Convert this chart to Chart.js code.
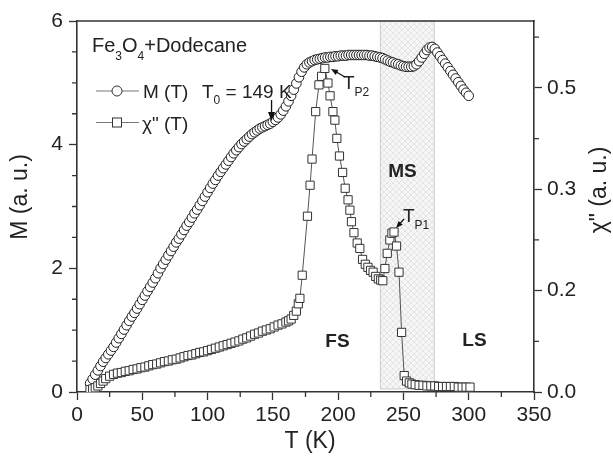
<!DOCTYPE html>
<html><head><meta charset="utf-8">
<script src="https://cdn.jsdelivr.net/npm/chart.js@4.4.0/dist/chart.umd.min.js"></script>
<style>html,body{margin:0;padding:0;background:#fff}canvas{display:block}</style>
</head><body>
<canvas id="c" width="613" height="456"></canvas>
<script>
// ---- data ----
const tempM = [10,12,14,16,18,20,22,24,26,28,30,32,34,36,38,40,42,44,46,48,50,52,54,56,58,60,62,64,66,68,70,72,74,76,78,80,82,84,86,88,90,92,94,96,98,100,102,104,106,108,110,112,114,116,118,120,122,124,126,128,130,132,134,136,138,140,142,144,146,148,150,152,154,156,158,160,162,164,166,168,170,172,174,176,178,180,182,184,186,188,190,192,194,196,198,200,202,204,206,208,210,212,214,216,218,220,222,224,226,228,230,232,234,236,238,240,242,244,246,248,250,252,254,256,258,260,262,264,266,268,270,272,274,276,278,280,282,284,286,288,290,292,294,296,298,300];
const magM = [0.14,0.21,0.28,0.35,0.42,0.49,0.55,0.61,0.67,0.73,0.80,0.87,0.94,1.01,1.08,1.15,1.22,1.28,1.35,1.42,1.49,1.56,1.63,1.70,1.77,1.84,1.92,2.00,2.07,2.14,2.21,2.28,2.35,2.42,2.48,2.55,2.62,2.69,2.75,2.82,2.89,2.95,3.02,3.09,3.16,3.23,3.30,3.37,3.43,3.50,3.56,3.62,3.68,3.74,3.80,3.86,3.91,3.96,4.01,4.05,4.09,4.13,4.17,4.20,4.23,4.26,4.28,4.30,4.32,4.34,4.37,4.40,4.44,4.49,4.55,4.62,4.70,4.79,4.89,4.99,5.09,5.18,5.25,5.30,5.33,5.35,5.37,5.38,5.39,5.40,5.41,5.41,5.42,5.42,5.43,5.43,5.44,5.44,5.44,5.45,5.45,5.45,5.45,5.45,5.45,5.45,5.45,5.44,5.44,5.43,5.42,5.41,5.40,5.38,5.36,5.34,5.33,5.31,5.30,5.28,5.27,5.26,5.26,5.26,5.27,5.30,5.35,5.41,5.47,5.53,5.57,5.58,5.55,5.49,5.43,5.37,5.31,5.25,5.19,5.13,5.07,5.01,4.95,4.89,4.84,4.79];
const tempChi = [10,12,14,16,18,20,22,25,28,31,34,37,40,43,46,49,52,55,58,61,64,67,70,73,76,79,82,85,88,91,94,97,100,103,106,109,112,115,118,121,124,127,130,133,136,139,142,145,148,151,154,157,160,162,164,166,168,169.5,170.7,172.5,176.5,178.5,180,182.8,185.3,187.3,189.8,192.2,193.8,196,197.5,199,201,203.4,205.4,207.6,209,210.2,212.1,214.6,216.6,218.7,220.8,222.8,224.8,226.8,228.8,230.8,232.6,234.2,235.8,237.6,239.6,241.2,242.8,244.7,246.6,248.6,250.6,252.4,254.5,256.5,259,262,265,268,271,274,277,280,283,286,289,292,295,298,301];
const chiVals = [0.004,0.005,0.007,0.010,0.014,0.018,0.022,0.026,0.029,0.031,0.032,0.034,0.035,0.037,0.038,0.040,0.041,0.043,0.045,0.046,0.048,0.050,0.051,0.053,0.054,0.056,0.058,0.060,0.061,0.063,0.065,0.066,0.068,0.070,0.072,0.074,0.076,0.078,0.080,0.082,0.084,0.087,0.089,0.092,0.095,0.097,0.100,0.102,0.104,0.107,0.110,0.112,0.115,0.117,0.120,0.126,0.133,0.145,0.154,0.192,0.289,0.340,0.383,0.461,0.505,0.519,0.532,0.508,0.487,0.461,0.447,0.417,0.388,0.361,0.335,0.316,0.299,0.280,0.262,0.245,0.236,0.218,0.210,0.205,0.200,0.197,0.190,0.186,0.184,0.183,0.203,0.228,0.250,0.261,0.263,0.240,0.197,0.098,0.027,0.018,0.015,0.013,0.012,0.011,0.011,0.010,0.010,0.010,0.009,0.009,0.009,0.009,0.009,0.008,0.008,0.008,0.008];
const xTicks = [0,50,100,150,200,250,300,350];
const yLeftTicks = [0,2,4,6];
const yRightTicks = [0,1/6,2/6,3/6];
const msRange = [232,274];
const t0 = 149;

const FONT = "'Liberation Sans', Arial, sans-serif";
const INK = '#222';

function hatchPattern(ctx){
  const c=document.createElement('canvas');c.width=c.height=6;
  const g=c.getContext('2d');
  g.fillStyle='#f6f6f6';g.fillRect(0,0,6,6);
  g.strokeStyle='#e4e4e4';g.lineWidth=1;
  g.beginPath();g.moveTo(0,0);g.lineTo(6,6);g.moveTo(6,0);g.lineTo(0,6);g.stroke();
  return ctx.createPattern(c,'repeat');
}

function txt(ctx,s,x,y,size,opts={}){
  ctx.save();
  ctx.font=(opts.bold?'bold ':'')+size+'px '+FONT;
  ctx.fillStyle=INK;ctx.textAlign=opts.align||'left';ctx.textBaseline=opts.base||'alphabetic';
  if(opts.rot){ctx.translate(x,y);ctx.rotate(opts.rot);ctx.fillText(s,0,0);}
  else ctx.fillText(s,x,y);
  const w=ctx.measureText(s).width;ctx.restore();return w;
}
function arrow(ctx,x1,y1,x2,y2,head){
  ctx.save();ctx.strokeStyle='#111';ctx.fillStyle='#111';ctx.lineWidth=1.3;
  const a=Math.atan2(y2-y1,x2-x1);
  ctx.beginPath();ctx.moveTo(x1,y1);ctx.lineTo(x2-Math.cos(a)*head*0.8,y2-Math.sin(a)*head*0.8);ctx.stroke();
  ctx.beginPath();ctx.moveTo(x2,y2);
  ctx.lineTo(x2-head*Math.cos(a)+head*0.4*Math.sin(a),y2-head*Math.sin(a)-head*0.4*Math.cos(a));
  ctx.lineTo(x2-head*Math.cos(a)-head*0.4*Math.sin(a),y2-head*Math.sin(a)+head*0.4*Math.cos(a));
  ctx.closePath();ctx.fill();ctx.restore();
}

const decor = {
  id:'decor',
  beforeDatasetsDraw(chart){
    const {ctx,chartArea:a,scales:{x,y}}=chart;
    const x1=x.getPixelForValue(msRange[0]),x2=x.getPixelForValue(msRange[1]);
    const yb=y.getPixelForValue(0.05);
    ctx.save();
    ctx.fillStyle=hatchPattern(ctx);
    ctx.fillRect(x1,a.top,x2-x1,yb-a.top);
    ctx.strokeStyle='#cdcdcd';ctx.lineWidth=1;
    ctx.strokeRect(x1+0.5,a.top,x2-x1-1,yb-a.top);
    ctx.restore();
  },
  afterDraw(chart){
    const {ctx,chartArea:a,scales:{x,y,y2}}=chart;
    ctx.save();
    ctx.strokeStyle='#333';ctx.lineWidth=1.6;
    ctx.beginPath();ctx.moveTo(a.left-0.8,a.top);ctx.lineTo(a.right+0.8,a.top);ctx.stroke();
    ctx.lineWidth=1.3;ctx.beginPath();
    for(let v=25;v<350;v+=50){const p=x.getPixelForValue(v);ctx.moveTo(p,a.bottom);ctx.lineTo(p,a.bottom+5);}
    for(let v=0.5;v<6;v+=0.5){if(v%2===0)continue;const p=y.getPixelForValue(v);ctx.moveTo(a.left,p);ctx.lineTo(a.left-5,p);}
    for(let k=1;k<=7;k+=2){const v=k/12;if(v>0.61)break;const p=y2.getPixelForValue(v);ctx.moveTo(a.right,p);ctx.lineTo(a.right+5,p);}
    ctx.stroke();
    ctx.restore();

    // axis titles
    txt(ctx,'M (a. u.)',21,197,23,{align:'center',base:'middle',rot:-Math.PI/2});
    txt(ctx,'\u03c7" (a. u.)',600,190,23,{align:'center',base:'middle',rot:-Math.PI/2});
    txt(ctx,'T (K)',310,442,23,{align:'center',base:'middle'});

    // sample label
    let cx=92;const by=52;
    cx+=txt(ctx,'Fe',cx,by,20);
    cx+=txt(ctx,'3',cx,by+8,12);
    cx+=txt(ctx,'O',cx,by,20);
    cx+=txt(ctx,'4',cx,by+8,12);
    txt(ctx,'+Dodecane',cx,by,20);

    // legend
    ctx.save();ctx.strokeStyle='#777';ctx.lineWidth=1;
    ctx.beginPath();ctx.moveTo(96,91);ctx.lineTo(139,91);ctx.moveTo(96,122.5);ctx.lineTo(139,122.5);ctx.stroke();
    ctx.fillStyle='#fff';ctx.strokeStyle='#333';
    ctx.beginPath();ctx.arc(117,91,5,0,Math.PI*2);ctx.fill();ctx.stroke();
    ctx.fillRect(112.5,118,9,9);ctx.strokeRect(112.5,118,9,9);
    ctx.restore();
    txt(ctx,'M (T)',143,98,19);
    let tx=202;
    tx+=txt(ctx,'T',tx,98,19);
    tx+=txt(ctx,'0',tx,104,12);
    txt(ctx,' = 149 K',tx,98,19);
    txt(ctx,'\u03c7" (T)',142,130,19);

    const ax=x.getPixelForValue(t0);
    arrow(ctx,ax,100,ax,121,9);

    let p2=343;
    p2+=txt(ctx,'T',p2,89,19);
    txt(ctx,'P2',p2,96,12);
    arrow(ctx,345,77,331,69,7);
    let p1=403;
    p1+=txt(ctx,'T',p1,222,19);
    txt(ctx,'P1',p1,229,12);
    arrow(ctx,404,219,396,228,7);

    txt(ctx,'MS',402.5,172,19,{bold:true,align:'center',base:'middle'});
    txt(ctx,'FS',337.5,342,19,{bold:true,align:'center',base:'middle'});
    txt(ctx,'LS',474.5,341,19,{bold:true,align:'center',base:'middle'});
  }
};

const tickFont = {family:FONT,size:21};
const axisCommon = {
  grid:{drawOnChartArea:false,drawTicks:true,tickLength:8,tickColor:'#333',tickWidth:1.3},
  border:{display:true,color:'#333',width:1.6},
};

new Chart(document.getElementById('c'),{
  type:'scatter',
  data:{datasets:[
    {label:'\u03c7" (T)',yAxisID:'y2',order:0,
     data:tempChi.map((t,i)=>({x:t,y:chiVals[i]})),
     showLine:true,borderColor:'#555',borderWidth:1,
     pointStyle:'rect',pointRadius:5.8,pointBorderColor:'#333',pointBackgroundColor:'#fff',pointBorderWidth:1},
    {label:'M (T)',yAxisID:'y',order:1,
     data:tempM.map((t,i)=>({x:t,y:magM[i]})),
     showLine:true,borderColor:'#444',borderWidth:1,
     pointStyle:'circle',pointRadius:4.8,pointBorderColor:'#1e1e1e',pointBackgroundColor:'#fff',pointBorderWidth:1}
  ]},
  options:{
    responsive:false,animation:false,devicePixelRatio:1,
    layout:{padding:{top:21,left:0,right:0,bottom:0}},
    plugins:{legend:{display:false},tooltip:{enabled:false}},
    scales:{
      x:{type:'linear',position:'bottom',min:0,max:350,...axisCommon,
         afterBuildTicks:s=>{s.ticks=xTicks.map(v=>({value:v}));},
         afterFit:s=>{s.height=64;},
         ticks:{font:tickFont,color:INK,padding:3,maxRotation:0,autoSkip:false}},
      y:{type:'linear',position:'left',min:0,max:6,...axisCommon,
         afterBuildTicks:s=>{s.ticks=yLeftTicks.map(v=>({value:v}));},
         afterFit:s=>{s.width=77;},
         ticks:{font:tickFont,color:INK,padding:6,autoSkip:false}},
      y2:{type:'linear',position:'right',min:0,max:0.61,...axisCommon,
         afterBuildTicks:s=>{s.ticks=yRightTicks.map(v=>({value:v}));},
         afterFit:s=>{s.width=79;},
         ticks:{font:tickFont,color:INK,padding:5,autoSkip:false,callback:v=>v.toFixed(1)}}
    }
  },
  plugins:[decor]
});
</script>
</body></html>
